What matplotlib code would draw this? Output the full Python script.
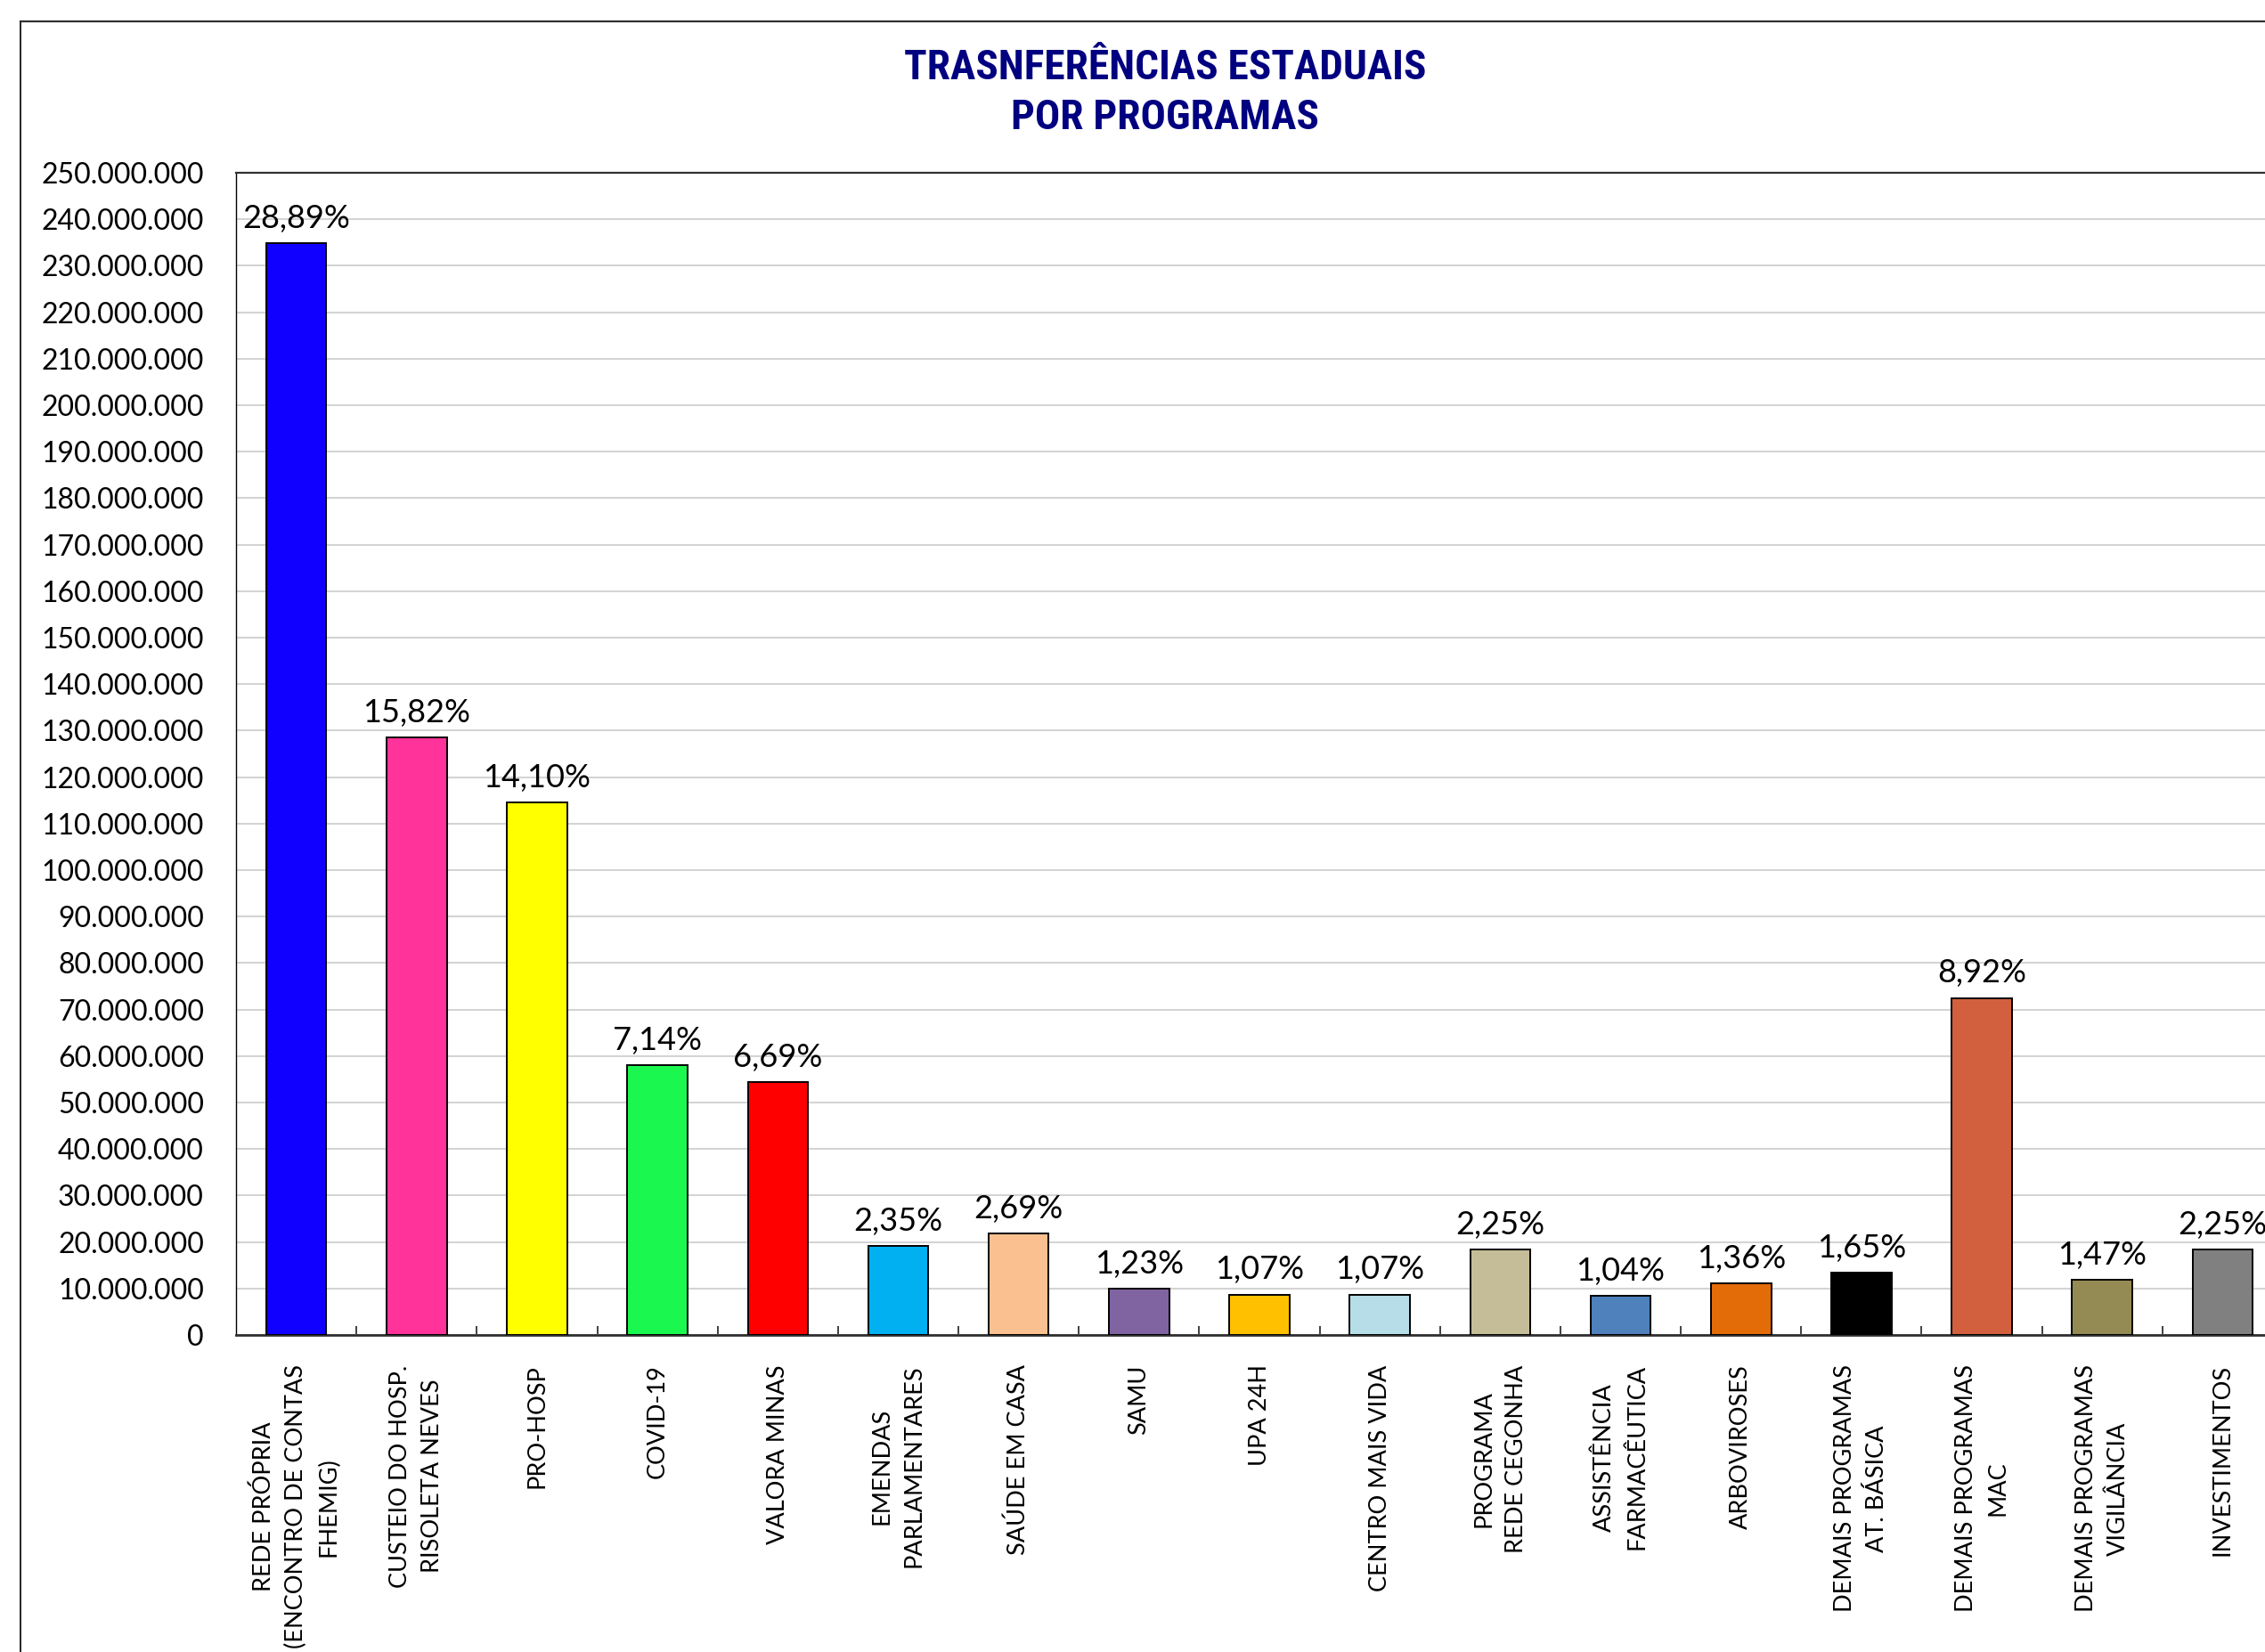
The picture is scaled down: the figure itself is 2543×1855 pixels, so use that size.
import matplotlib
matplotlib.use('Agg')
import matplotlib.pyplot as plt
from matplotlib import font_manager
from matplotlib.font_manager import FontProperties
from matplotlib.lines import Line2D
from matplotlib.ticker import FixedLocator

# Dados
programas = [
    'REDE PRÓPRIA\n(ENCONTRO DE CONTAS\nFHEMIG)',
    'CUSTEIO DO HOSP.\nRISOLETA NEVES',
    'PRO-HOSP',
    'COVID-19',
    'VALORA MINAS',
    'EMENDAS\nPARLAMENTARES',
    'SAÚDE EM CASA',
    'SAMU',
    'UPA 24H',
    'CENTRO MAIS VIDA',
    'PROGRAMA\nREDE CEGONHA',
    'ASSISTÊNCIA\nFARMACÊUTICA',
    'ARBOVIROSES',
    'DEMAIS PROGRAMAS\nAT. BÁSICA',
    'DEMAIS PROGRAMAS\nMAC',
    'DEMAIS PROGRAMAS\nVIGILÂNCIA',
    'INVESTIMENTOS',
]
valores = [
    234_800_000, 128_600_000, 114_600_000, 58_000_000, 54_400_000,
    19_100_000, 21_900_000, 10_000_000, 8_700_000, 8_700_000,
    18_300_000, 8_450_000, 11_050_000, 13_400_000, 72_500_000,
    11_950_000, 18_300_000,
]
percentuais = [
    '28,89%', '15,82%', '14,10%', '7,14%', '6,69%', '2,35%', '2,69%',
    '1,23%', '1,07%', '1,07%', '2,25%', '1,04%', '1,36%', '1,65%',
    '8,92%', '1,47%', '2,25%',
]
cores = [
    '#0F00FF', '#FF3399', '#FFFF00', '#1AF84F', '#FF0000', '#00B0F0',
    '#FAC090', '#8064A2', '#FFC000', '#B7DEE8', '#C4BD97', '#4F81BD',
    '#E36C09', '#000000', '#D2603F', '#948A54', '#808080',
]
yticks = list(range(0, 250_000_001, 10_000_000))
titulo = ['TRASNFERÊNCIAS ESTADUAIS', 'POR PROGRAMAS']

W, H = 2543, 1855
fig = plt.figure(figsize=(W / 100, H / 100), dpi=100)
fig.patch.set_facecolor('white')

# moldura externa do grafico
fig.add_artist(Line2D([23 / W, 23 / W], [0, 1 - 24 / H], transform=fig.transFigure,
                      color='black', lw=1.2))
fig.add_artist(Line2D([23 / W, 1], [1 - 24 / H, 1 - 24 / H], transform=fig.transFigure,
                      color='#303030', lw=1.6))

ax = fig.add_axes([265 / W, 1 - 1499 / H, (2563 - 265) / W, (1499 - 194) / H])

x = list(range(len(programas)))
ax.bar(x, valores, width=0.5, color=cores, edgecolor='black', linewidth=1.4, zorder=3)

for xi, v, p in zip(x, valores, percentuais):
    ax.annotate(p, (xi, v), xytext=(0, 8), textcoords='offset points',
                ha='center', va='bottom', fontsize=26, family='Lato', color='black')

ax.set_xlim(-0.5, len(programas) - 0.5)
ax.set_ylim(0, 250_000_000)

ax.set_yticks(yticks)
ax.set_yticklabels([f'{v:,.0f}'.replace(',', '.') for v in yticks], fontsize=23, family='Lato')
ax.tick_params(axis='y', length=0, pad=26)

ax.set_xticks(x)
ax.set_xticklabels(programas, rotation=90, fontsize=19.5, family='Lato',
                   ha='center', va='top', linespacing=1.55, multialignment='center')
ax.tick_params(axis='x', which='major', length=0, pad=24)
ax.xaxis.set_minor_locator(FixedLocator([i + 0.5 for i in range(len(programas) - 1)]))
ax.tick_params(axis='x', which='minor', direction='in', length=7, width=1.2, color='#202020')

ax.yaxis.grid(True, color='#D4D4D4', lw=1.5, zorder=0)
ax.set_axisbelow(True)

ax.spines['top'].set_color('#303030')
ax.spines['top'].set_linewidth(1.6)
ax.spines['bottom'].set_color('#303030')
ax.spines['bottom'].set_linewidth(2.0)
ax.spines['left'].set_color('black')
ax.spines['left'].set_linewidth(1.0)
ax.spines['right'].set_visible(False)

# Titulo - procura uma fonte estreita (tipo Arial Narrow)
preferidas = ['Liberation Sans Narrow', 'Arial Narrow', 'Roboto Condensed',
              'Open Sans Condensed', 'Noto Sans Condensed', 'DejaVu Sans Condensed']
arquivo = None
melhor = 99
for f in font_manager.fontManager.ttflist:
    negrito = f.weight in (700, 'bold')
    if not negrito or f.style != 'normal':
        continue
    if f.name in preferidas:
        rank = preferidas.index(f.name)
    elif f.stretch in ('condensed', 'semi-condensed') and f.name in ('Roboto', 'Noto Sans', 'Open Sans', 'DejaVu Sans'):
        rank = 10
    else:
        continue
    if rank < melhor:
        melhor, arquivo = rank, f.fname

if arquivo:
    fp = FontProperties(fname=arquivo)
else:
    fp = FontProperties(family='Liberation Sans', weight='bold')

t1 = fig.text(1308 / W, 1 - 89 / H, titulo[0], ha='center', va='baseline',
              fontproperties=fp, fontsize=34, color='#000080')
t2 = fig.text(1308 / W, 1 - 145 / H, titulo[1], ha='center', va='baseline',
              fontproperties=fp, fontsize=34, color='#000080')
fig.canvas.draw()
largura = t1.get_window_extent().width
if largura > 599:
    novo = 34 * 599 / largura
    t1.set_fontsize(novo)
    t2.set_fontsize(novo)

fig.savefig('out.png', dpi=100)
